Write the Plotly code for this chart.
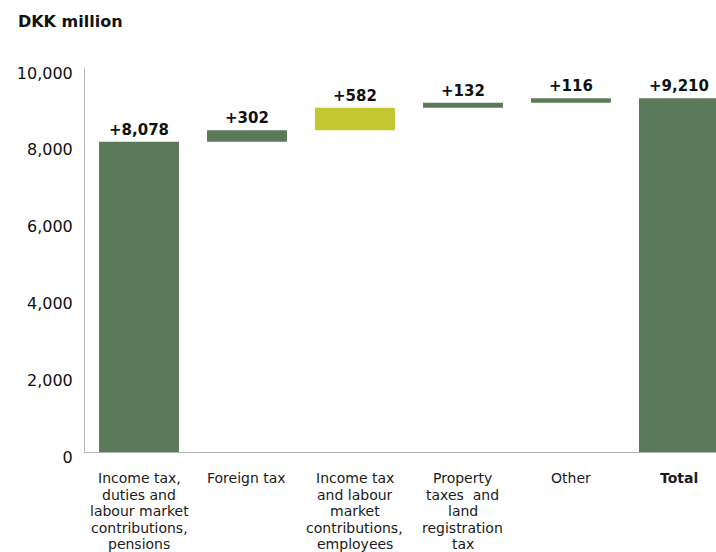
import plotly.graph_objects as go

# Contributions to total tax (DKK million), shown as a waterfall built from stacked bars
categories = [
    "Income tax,<br>duties and<br>labour market<br>contributions,<br>pensions",
    "Foreign tax",
    "Income tax<br>and labour<br>market<br>contributions,<br>employees",
    "Property<br>taxes  and<br>land<br>registration<br>tax",
    "Other",
    "<b>Total</b>",
]
values = [8078, 302, 582, 132, 116, 9210]
is_total = [False, False, False, False, False, True]
bar_colors = ["#5a7a59", "#5a7a59", "#c3c830", "#5a7a59", "#5a7a59", "#5a7a59"]
y_ticks = [0, 2000, 4000, 6000, 8000, 10000]

# floating bars start where the running sum left off; the total starts at zero
bases = []
running = 0
for v, tot in zip(values, is_total):
    if tot:
        bases.append(0)
    else:
        bases.append(running)
        running += v

x_idx = list(range(len(categories)))
labels = ["+{:,}".format(v) for v in values]

fig = go.Figure(
    go.Bar(
        x=x_idx,
        y=values,
        base=bases,
        width=0.74,
        marker=dict(color=bar_colors, line=dict(width=0)),
        text=labels,
        textposition="outside",
        textfont=dict(family="DejaVu Sans", size=15, color="#111111", weight="bold"),
        cliponaxis=False,
        hoverinfo="skip",
    )
)

# multi-line category labels under the axis, one annotation per line
line_gap = 16.5
for i, cat in enumerate(categories):
    for j, line in enumerate(cat.split("<br>")):
        fig.add_annotation(
            x=i, xref="x", y=0, yref="paper",
            text=line, showarrow=False,
            xanchor="center", yanchor="middle",
            height=16,
            yshift=-26 - line_gap * j,
            font=dict(family="DejaVu Sans", size=14, color="#1a1a1a"),
        )

fig.update_layout(
    width=716,
    height=552,
    margin=dict(l=85, r=0, t=68, b=100),
    paper_bgcolor="white",
    plot_bgcolor="white",
    showlegend=False,
    title=dict(
        text="<b>DKK million</b>",
        x=0.025, xanchor="left", xref="container",
        y=0.972, yanchor="top", yref="container",
        font=dict(family="DejaVu Sans", size=16, color="#111111"),
    ),
    xaxis=dict(
        range=[-0.5, 5.343],
        showticklabels=False,
        showgrid=False,
        zeroline=False,
        showline=True,
        linecolor="#b5b5b5",
        linewidth=1,
        ticks="",
        fixedrange=True,
    ),
    yaxis=dict(
        range=[0, 10000],
        tickvals=y_ticks,
        tickformat=",",
        showgrid=False,
        zeroline=False,
        showline=True,
        linecolor="#b5b5b5",
        linewidth=1,
        ticks="",
        ticklabelstandoff=8,
        ticklabelshift=5,
        tickfont=dict(family="DejaVu Sans", size=16, color="#111111"),
        fixedrange=True,
    ),
)

fig.write_html("out.html")
